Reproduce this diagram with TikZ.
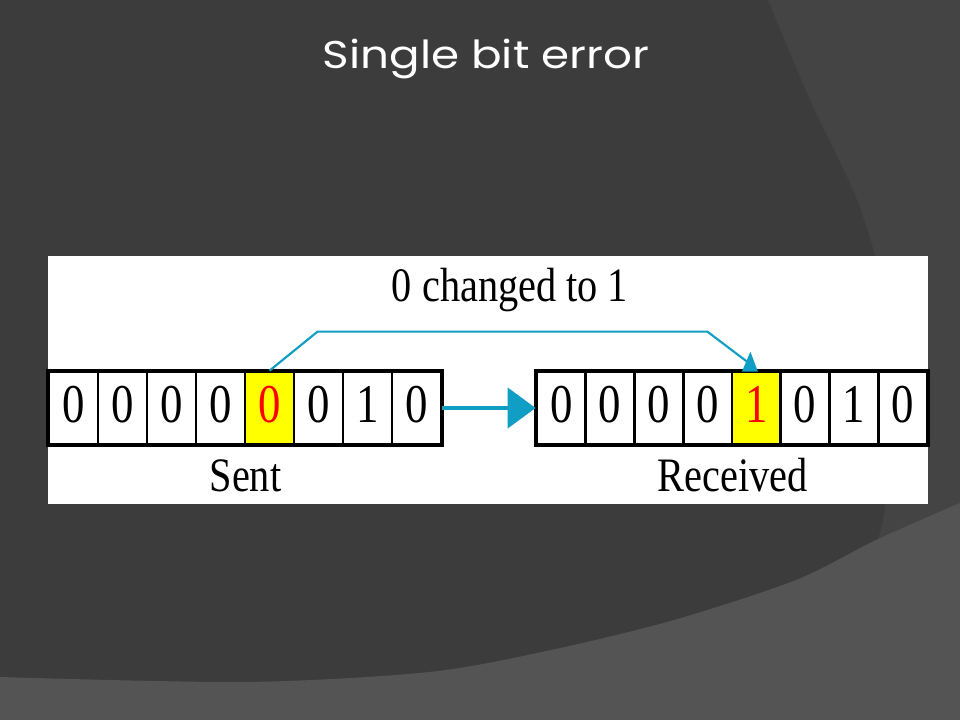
\documentclass[tikz,border=0pt]{standalone}
\usepackage{fontspec}
\usepackage{graphicx}
\setmainfont{Liberation Serif}
\newfontfamily\titlefont{Poppins}
\usetikzlibrary{arrows.meta,calc}
\definecolor{bgmain}{RGB}{60,60,60}
\definecolor{bgright}{RGB}{68,68,68}
\definecolor{bgbottom}{RGB}{84,84,84}
\definecolor{arrowteal}{RGB}{16,158,196}
\definecolor{hotyellow}{RGB}{255,255,0}
\newcommand{\nb}[1]{\scalebox{0.82}[1]{#1}}
\newcommand{\nl}[1]{\scalebox{0.84}[1]{#1}}
\tikzset{
  cell/.style={draw=black, line width=2pt, fill=white, minimum width=36.6pt, minimum height=54pt,
    inner sep=0pt, text height=27.75pt, text depth=6.75pt, font=\fontsize{41pt}{41pt}\selectfont},
  hot/.style={cell, fill=hotyellow, text=red},
  lbl/.style={anchor=base, inner sep=0pt, font=\fontsize{36pt}{36pt}\selectfont},
  tealline/.style={draw=arrowteal, line width=1.6pt, line join=miter},
}
\begin{document}
\begin{tikzpicture}[x=0.75pt,y=-0.75pt]
\useasboundingbox (0,0) rectangle (960,720);
% background
\fill[bgmain] (0,0) rectangle (960,720);
\fill[bgright] plot[smooth] coordinates {(768,0) (810,100) (857,200) (883,290) (889,380) (885,503) (876,545) (851,613) (790,720)} -- (960,720) -- (960,0) -- cycle;
\draw[black!75, line width=0.6pt, opacity=0.5] plot[smooth] coordinates {(768,0) (810,100) (857,200) (883,290) (889,380) (885,503) (876,545) (851,613) (790,720)};
\fill[bgbottom] plot[smooth] coordinates {(0,677) (245,682) (429,672) (551,650) (674,620) (796,580) (876,540) (960,503)} -- (960,720) -- (0,720) -- cycle;
% title
\node[anchor=base, inner sep=0pt, text=white, font=\titlefont\fontsize{29pt}{29pt}\selectfont] (title) at (486,69) {\scalebox{1.17}[1]{Single bit error}};
% white panel
\fill[white] (47.5,256) rectangle (928,504);
% sent register
\foreach \d/\st [count=\i] in {0/cell,0/cell,0/cell,0/cell,0/hot,0/cell,1/cell,0/cell}
  \node[\st] (s\i) at ({73.5+49*(\i-1)},408) {\nb{\d}};
\draw[line width=3pt] (s1.north west) rectangle (s8.south east);
% received register
\foreach \d/\st [count=\i] in {0/cell,0/cell,0/cell,0/cell,1/hot,0/cell,1/cell,0/cell}
  \node[\st] (r\i) at ({561.4+48.75*(\i-1)},408) {\nb{\d}};
\draw[line width=3pt] (r1.north west) rectangle (r8.south east);
% labels
\node[lbl] (sent) at (245.5,491.7) {\nl{Sent}};
\node[lbl] (recv) at (732.5,491.7) {\nl{Received}};
\node[lbl] (chg) at (510,301.7) {\nl{0 changed to 1}};
% horizontal arrow
\draw[draw=arrowteal, fill=arrowteal, line width=3pt, -{Triangle[length=21pt,width=30pt]}] (s8.east) -- (r1.west);
% bent arrow
\draw[tealline] (s5.north) -- ++(48,-39) -- ($(r5.north)+(-49,-39)$) -- ($(r5.north)+(-8,-8)$);
\fill[arrowteal] ($(r5.north)+(-14.5,1)$) -- ($(r5.north)+(1.5,1)$) -- ($(r5.north)+(-6,-19)$) -- cycle;
\end{tikzpicture}
\end{document}
